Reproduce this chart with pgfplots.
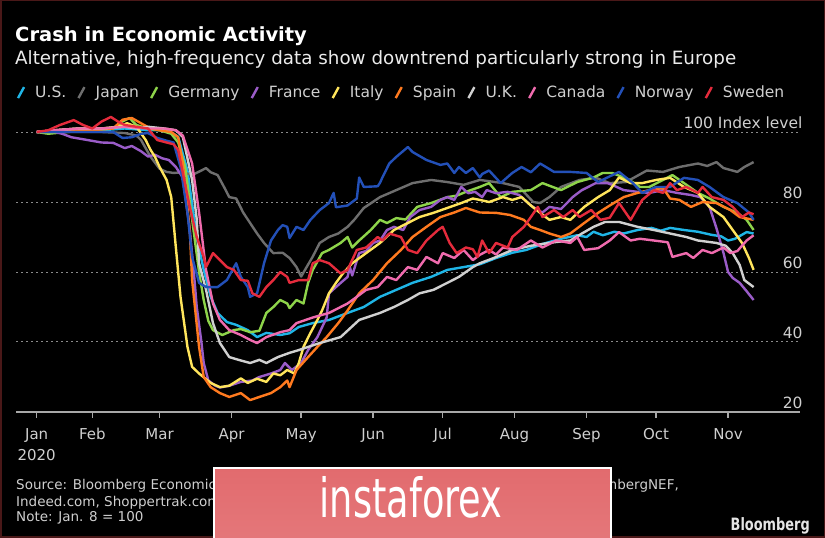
\documentclass[border=0pt]{standalone}
\usepackage{fontspec}
\setmainfont{DejaVu Sans}
\usepackage{pgfplots}
\pgfplotsset{compat=1.18}

\definecolor{usc}{HTML}{1FB5E6}
\definecolor{jpc}{HTML}{6E6E6E}
\definecolor{dec}{HTML}{8ED44A}
\definecolor{frc}{HTML}{9A5CC8}
\definecolor{itc}{HTML}{FFE55C}
\definecolor{esc}{HTML}{FF7A1F}
\definecolor{ukc}{HTML}{D0D0D0}
\definecolor{cac}{HTML}{F06BAE}
\definecolor{noc}{HTML}{2350B8}
\definecolor{sec}{HTML}{E52B3C}
\definecolor{gridgray}{HTML}{8A8A8A}
\definecolor{axisgray}{HTML}{A8A8A8}
\definecolor{labelgray}{HTML}{CFCFCF}
\definecolor{wmred}{HTML}{E26B6E}
\definecolor{frame}{HTML}{4A1818}

\begin{document}
\begin{tikzpicture}
\fill[black] (0,0) rectangle (825pt,538pt);
\draw[frame,line width=1.5pt] (0.75pt,0.75pt) rectangle (824.25pt,537.25pt);

\begin{axis}[
    at={(16pt,126pt)}, anchor=south west,
    scale only axis, width=784pt, height=280pt,
    xmin=-1.9, xmax=336, ymin=20, ymax=100,
    clip=false,
    axis x line*=bottom, axis y line*=right,
    x axis line style={draw=axisgray, line width=1.6pt},
    y axis line style={draw=none},
    xtick={7,31,60,91,121,152,182,213,244,274,305},
    xticklabels={{Jan\\2020},Feb,Mar,Apr,May,Jun,Jul,Aug,Sep,Oct,Nov},
    xticklabel style={align=center, anchor=north, yshift=-7pt, text=labelgray, font=\fontsize{15}{21}\selectfont},
    xtick style={draw=axisgray, line width=1.6pt},
    major tick length=6pt, tick align=outside,
    ytick={20,40,60,80,100},
    yticklabels={20,40,60,80,100 Index level},
    ytick style={draw=none},
    yticklabel style={anchor=south east, text=labelgray, font=\fontsize{15.5}{20}\selectfont},
    ymajorgrids, major grid style={gridgray, line width=1pt, dash pattern=on 1.5pt off 3.5pt},
    every axis plot/.append style={line width=2.4pt, line join=round, mark=none},
    legend columns=10,
    legend image code/.code={\draw[#1, line width=2.4pt] (0pt,-5pt) -- (6pt,6pt); \path (14pt,0pt);},
    legend style={draw=none, fill=none, text=labelgray, font=\fontsize{15.5}{20}\selectfont,
        at={(-0.003,1.139)}, anchor=west,
        nodes={text height=11.5pt, text depth=3.5pt},
        /tikz/every even column/.append style={column sep=9pt}},
]
\addplot[usc] coordinates {(7,100)(15,100)(25,100.5)(35,100.5)(45,101)(55,100.5)(62,100.5)(66,99.5)(68,98.6)(72,89)(76,70)(79,60.6)(82,52.9)(85,48.3)(89,45.7)(93,44.9)(98,43.4)(102,41.4)(106,42.6)(112,42)(116,42.5)(120,44.3)(126,45.4)(133,46.3)(141,48.3)(148,50)(155,52.9)(162,54.9)(169,56.9)(177,58.6)(184,60.6)(191,61.4)(198,62.2)(205,64)(212,65.5)(218,66.3)(225,68)(233,69.5)(240,70.5)(244,70)(247,71.5)(251,70.5)(256,71.5)(260,71)(266,72)(272,72.6)(276,71.8)(280,72.6)(286,72)(292,71.5)(298,70.6)(302,70.2)(305,69)(308,69.5)(313,71.4)(316,71)};
\addplot[jpc] coordinates {(7,100)(20,100)(35,100)(45,99.7)(50,99)(52,97.7)(56,93)(60,89.5)(63,88.6)(66,88.3)(70,88.5)(74,87.7)(78,89)(80,89.7)(82,88.5)(85,87.7)(88,84)(90,81.4)(93,81)(96,77)(99,74)(102,71)(105,68.3)(109,65.4)(113,65.5)(116,64)(119,61.4)(121,58.7)(123,61)(126,64.4)(129,68.3)(133,70)(137,71)(141,72.9)(144,75)(148,78.3)(155,81.4)(162,83.4)(169,85.4)(177,86.3)(184,85.7)(191,84.9)(198,86.3)(208,85.4)(215,84.3)(221,80)(224,79.7)(228,81.4)(233,84.3)(241,86.3)(248,86.9)(254,85.4)(261,85.7)(270,89)(277,88.6)(284,90)(292,91)(296,90.3)(300,91.4)(303,89.7)(309,88.6)(312,90)(316,91.4)};
\addplot[dec] coordinates {(7,100)(12,99.5)(20,100)(30,100.5)(40,101)(44,103)(47,104)(50,102)(55,101)(60,100.5)(65,99.5)(68,97)(71,90)(74,75)(77,60)(79,52)(81,46)(83,43.4)(87,42)(92,43.4)(95,43.7)(99,42.8)(103,43.2)(106,48.3)(109,50)(112,52)(115,51)(116,49.7)(119,52)(122,51)(124,56.9)(126,60.6)(130,65.4)(133,66.3)(138,68.3)(141,70)(143,67)(146,69)(151,72)(155,74.9)(158,74)(162,75.4)(166,75)(171,78.6)(177,79.7)(184,81.4)(188,81.8)(192,82.9)(198,84.3)(202,85.4)(207,81.4)(212,82.9)(220,83.4)(225,85.4)(233,83.4)(240,85.7)(247,87)(251,88.3)(255,88.3)(262,86.5)(267,84.3)(271,84.3)(277,86.3)(281,87.7)(286,85.4)(292,82.6)(297,81)(303,78.6)(309,76.9)(313,74.9)(316,72)};
\addplot[frc] coordinates {(7,100)(15,100)(18,99.5)(22,98.5)(29,97.7)(35,97)(40,96.9)(45,95.4)(48,96)(52,94.5)(55,93)(58,93.5)(61,92.5)(64,92)(67,90)(70,87)(73,72)(75,58)(76,50)(78,40)(79,34)(81,29)(84,27.5)(86,27)(90,27.5)(95,28.6)(100,29)(103,30)(108,31)(112,32)(114,34)(117,32)(121,34)(124,37.7)(128,41.4)(132,47)(133,53.9)(136,55.7)(141,58.6)(142,61.4)(143,59)(146,65.4)(149,66)(152,68.3)(155,69)(158,72)(161,72.9)(165,72)(168,75.7)(172,77.7)(177,78.6)(181,80.6)(184,81.4)(187,80.6)(190,84.3)(193,82.5)(196,82.9)(199,81.4)(201,83.4)(205,82.5)(210,82.9)(215,82)(220,79)(223,77.7)(225,77)(228,78.6)(233,78)(236,80)(238,81.4)(242,83.4)(248,85.4)(253,85.4)(255,84.9)(260,83.4)(266,82.9)(271,82.6)(277,83.4)(283,82.6)(289,82)(293,81.4)(297,78.6)(300,72.5)(303,65.5)(305,60)(307,58.3)(310,56.9)(313,54.5)(316,52)};
\addplot[itc] coordinates {(7,100)(15,100.5)(25,101)(35,101)(42,101.5)(46,102.5)(50,101.5)(54,97.7)(56,95)(58,92.9)(60,90)(63,86.3)(65,81.4)(67,67)(69,52.9)(72,38.6)(74,32.9)(77,31)(82,28.3)(86,27.1)(90,27.5)(95,29.6)(98,28.3)(102,29.5)(106,28.6)(109,31)(112,30.5)(115,32)(118,31)(120,34)(122,38.6)(125,42.6)(128,46.3)(130,49)(133,53.9)(136,56.9)(139,59.6)(143,62.5)(149,65.4)(155,68.3)(161,72)(167,74)(172,75.7)(178,76.9)(184,78.3)(190,79.7)(195,81)(198,80.6)(202,80)(208,81.4)(212,80.6)(216,81.4)(220,79)(224,76.9)(228,74.9)(233,75.7)(237,74.9)(243,78.6)(249,81.4)(254,83.4)(258,87)(263,85.4)(268,85.4)(274,86.3)(280,86.9)(286,84.3)(292,82.6)(297,78.6)(303,75.7)(307,72)(311,68.3)(314,64)(316,60.6)};
\addplot[esc] coordinates {(7,100)(20,100.5)(30,100.5)(40,101)(44,103.5)(48,104)(52,102.5)(56,101)(60,100.5)(65,100)(68,98.5)(70,91)(73,72)(74,57.7)(77,38.6)(79,30)(82,27.1)(86,25.4)(90,24.3)(95,25.4)(99,23.4)(103,24.3)(108,25.4)(112,27.1)(115,29)(116,27.1)(119,32)(124,35.7)(128,38.6)(132,41.4)(137,45.4)(141,49)(146,53.9)(152,57.7)(158,62.5)(164,66.3)(169,70)(175,72.9)(181,75.7)(187,77)(192,78.3)(198,77)(205,76.9)(211,76.3)(217,74.9)(220,72.9)(224,72)(228,71)(233,70)(237,71)(243,74)(249,76.9)(254,79)(260,81.4)(266,82.6)(271,83.4)(277,84)(280,81)(284,80.6)(289,78.6)(294,80)(300,79.7)(306,77.7)(310,75.7)(316,74.9)};
\addplot[ukc] coordinates {(7,100)(15,100.5)(25,101)(35,101)(45,101.5)(50,101)(55,101.5)(62,101)(67,100.5)(70,98.6)(74,86.3)(76,75)(77,62.5)(80,54.9)(83,45.4)(86,39.7)(90,35.7)(94,34.9)(99,34)(103,34.9)(106,34)(111,35.7)(116,36.9)(120,37.7)(129,39.7)(138,41.4)(146,46.3)(155,48.3)(161,50)(167,52)(172,53.9)(178,54.9)(184,56.9)(189,58.6)(195,61.4)(198,62.5)(204,64)(212,66.3)(220,67.5)(230,68.5)(237,69)(242,71)(247,72.9)(252,74.3)(258,74.3)(266,72.9)(273,72)(280,71)(287,70)(292,69)(300,68.3)(304,67.5)(307,65.4)(310,62)(312,57.7)(316,55.7)};
\addplot[cac] coordinates {(7,100)(15,100.5)(25,101)(35,101)(45,101.5)(55,101)(62,101)(67,100.5)(70,99)(74,91)(77,77)(80,60.6)(83,51)(86,46.3)(90,43.4)(95,42)(99,40.6)(102,39.7)(106,41.4)(112,42.8)(116,43.4)(119,45.4)(126,47)(133,48.3)(141,51)(145,52.9)(149,54.9)(154,55.7)(158,58.6)(162,57.7)(167,61.4)(171,60.6)(175,64.3)(180,62.5)(182,65.4)(187,64)(191,66.3)(195,63.4)(198,64.9)(202,66.3)(205,65)(208,67)(214,66.3)(220,69)(225,67)(231,69)(237,68.3)(240,70)(243,66.3)(249,66.8)(254,69)(258,71.4)(263,69)(267,69.5)(273,69)(279,68.5)(281,64.3)(287,65.4)(290,64)(294,66.3)(298,65.4)(303,67)(306,65.4)(309,66)(313,69)(316,70.5)};
\addplot[noc] coordinates {(7,100)(20,100)(30,100)(40,100)(44,98.3)(48,98.5)(52,99.5)(55,99.7)(59,98.3)(63,97.5)(66,97)(69,90)(72,77)(74,64.3)(77,56.9)(80,55.7)(85,55.7)(89,57.7)(93,62.5)(95,58.6)(98,55.7)(99,52.9)(102,53.9)(105,62.5)(108,69)(111,72)(113,73.4)(115,72.9)(116,69.7)(119,72.9)(122,72)(125,74.9)(129,77.7)(133,79.7)(135,82.6)(136,78.5)(141,79)(145,81)(146,87)(148,84.3)(154,84.5)(155,85.5)(156,87)(159,91)(162,92.9)(167,95.7)(169,94.3)(175,92)(181,90.6)(184,91)(187,88.3)(189,90)(192,88.3)(195,89.7)(198,87)(199,88)(202,89)(207,85.4)(212,88.3)(216,90)(220,88.5)(224,91)(230,88.6)(237,88.6)(244,88.3)(249,85.7)(253,87)(258,88.6)(264,85.4)(268,82.6)(274,84.3)(280,84.3)(286,86.9)(292,86.3)(297,84.3)(303,81.4)(309,79.7)(314,77)(316,74.9)};
\addplot[sec] coordinates {(7,100)(12,100.5)(17,102)(23,103.4)(27,102)(31,101)(35,103)(39,104.3)(42,103)(45,102)(50,101.5)(55,101)(59,97.7)(63,97)(66,96.5)(68,94.9)(70,88.3)(73,78.6)(76,70)(79,64.3)(80,61.4)(83,65.4)(86,63.4)(89,61.4)(92,60.6)(95,57.7)(98,57.5)(100,53.9)(103,52.9)(106,55.7)(109,57.7)(112,60)(115,58.6)(116,56.9)(120,57.7)(124,57.7)(126,62.5)(129,63.4)(133,62.5)(138,59.6)(141,60.6)(145,66.3)(149,67)(154,70)(156,69)(159,71)(164,70)(167,66.3)(171,65.4)(175,69)(180,72)(182,72.9)(185,68.3)(188,65.4)(192,67)(195,66.5)(197,64.3)(199,69)(202,65.4)(205,68.3)(210,67)(212,70)(217,72.9)(220,75.7)(223,78.6)(225,75.7)(230,77.7)(234,75.7)(238,77.7)(241,75.7)(246,77.7)(250,74.9)(254,75.5)(258,79.7)(263,74.9)(268,80.6)(273,83.4)(277,82.6)(280,85.4)(283,83.4)(287,84.3)(292,82.6)(294,84.3)(298,81.4)(303,80.6)(307,78.6)(311,75.7)(314,77)(316,76.5)};
\legend{U.S.,Japan,Germany,France,Italy,Spain,U.K.,Canada,Norway,Sweden}
\end{axis}

\node[anchor=base west, text=white, font=\fontsize{19.5}{24}\selectfont\bfseries, inner sep=0pt] at (15pt,496pt) {Crash in Economic Activity};
\node[anchor=base west, text=white!92!black, font=\fontsize{18.3}{21}\selectfont, inner sep=0pt] at (15pt,473pt) {Alternative, high-frequency data show downtrend particularly strong in Europe};

\node[anchor=base west, text=labelgray, font=\fontsize{13.5}{16}\selectfont, inner sep=0pt] at (16pt,48pt) {Source: Bloomberg Economics, Google, Apple,};
\node[anchor=base east, text=labelgray, font=\fontsize{13.5}{16}\selectfont, inner sep=0pt] at (679pt,48pt) {BloombergNEF,};
\node[anchor=base west, text=labelgray, font=\fontsize{13.5}{16}\selectfont, inner sep=0pt] at (16pt,31pt) {Indeed.com, Shoppertrak.com};
\node[anchor=base west, text=labelgray, font=\fontsize{13.5}{16}\selectfont, inner sep=0pt] at (16pt,16pt) {Note: Jan. 8 = 100};

\shade[top color=wmred, bottom color=wmred!92!white, draw=white, line width=2pt] (214pt,-2pt) rectangle (611pt,70pt);
\node[text=white, font=\fontsize{54}{60}\selectfont, inner sep=0pt, anchor=base] at (411pt,20pt) {\scalebox{0.68}[1]{instaforex}};

\node[anchor=base east, text=white!90!black, font=\fontsize{17}{20}\selectfont\bfseries, inner sep=0pt] at (810pt,7pt) {\scalebox{0.76}[1]{Bloomberg}};

\pgfresetboundingbox
\useasboundingbox (0,0) rectangle (825pt,538pt);
\end{tikzpicture}
\end{document}
